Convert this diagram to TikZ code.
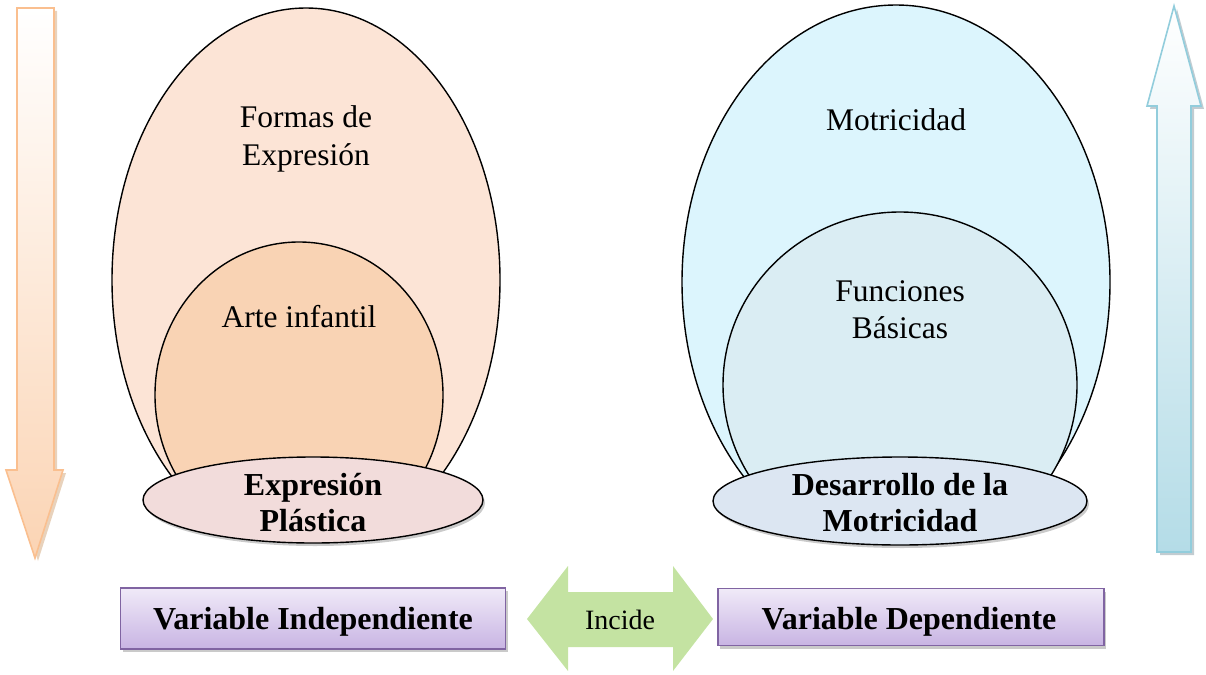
\documentclass[tikz,border=0pt]{standalone}
\usepackage{fontspec}
\setmainfont{Liberation Serif}
\usetikzlibrary{shapes.geometric,shadows}
\definecolor{peachA}{HTML}{FCE4D6}
\definecolor{peachB}{HTML}{F9D3B4}
\definecolor{peachC}{HTML}{F2DCDB}
\definecolor{cyanA}{HTML}{DCF5FD}
\definecolor{cyanB}{HTML}{DAEDF3}
\definecolor{cyanC}{HTML}{DCE6F2}
\definecolor{orArrow}{HTML}{FABF8F}
\definecolor{orFill}{HTML}{FBD4B4}
\definecolor{blArrow}{HTML}{92CDDC}
\definecolor{blFill}{HTML}{B4DCE7}
\definecolor{purLine}{HTML}{8064A2}
\definecolor{purTop}{HTML}{F0EAF8}
\definecolor{purBot}{HTML}{C8B4E3}
\definecolor{greenA}{HTML}{C4E3A2}
\tikzset{
  oval/.style={ellipse, draw=black, line width=1.4pt, inner sep=0pt},
  softshadow/.style={drop shadow={shadow xshift=2pt, shadow yshift=-3pt, opacity=0.35, fill=black!60}},
  lbl/.style={font=\fontsize{31.5}{37}\selectfont, anchor=base, inner sep=0pt},
  blbl/.style={font=\fontsize{32}{36}\selectfont\bfseries, anchor=base, inner sep=0pt},
  varbox/.style={draw=purLine, line width=1.4pt, top color=purTop, bottom color=purBot, softshadow, inner sep=0pt},
}
\begin{document}
\begin{tikzpicture}[x=1pt, y=-1pt]
\useasboundingbox (0,0) rectangle (1206,674);
% side arrows
\draw[draw=orArrow, line width=1.6pt, top color=white, bottom color=orFill,
      drop shadow={shadow xshift=3pt, shadow yshift=-3pt, opacity=0.5, fill=brown!70}]
  (17,8) -- (54,8) -- (54,470) -- (63,470) -- (35,558) -- (6,470) -- (17,470) -- cycle;
\draw[draw=blArrow, line width=1.6pt, top color=white, bottom color=blFill,
      drop shadow={shadow xshift=3pt, shadow yshift=-3pt, opacity=0.5, fill=gray!80!cyan}]
  (1174,6) -- (1201,106) -- (1191,106) -- (1191,552) -- (1157,552) -- (1157,106) -- (1147,106) -- cycle;
% big ovals, cut off behind the base ovals
\begin{scope}
\clip (0,0) rectangle (1206,500);
\node[oval, fill=peachA, minimum width=388pt, minimum height=544pt] (outerL) at (306,280) {};
\node[oval, fill=peachB, minimum width=288pt, minimum height=306pt] (innerL) at (299,395) {};
\node[oval, fill=cyanA, minimum width=428pt, minimum height=554pt] (outerR) at (896,282) {};
\node[oval, fill=cyanB, minimum width=354pt, minimum height=346pt] (innerR) at (900,385) {};
\end{scope}
\node[oval, fill=peachC, minimum width=340pt, minimum height=86pt, softshadow] (baseL) at (313,500) {};
\node[oval, fill=cyanC, minimum width=374pt, minimum height=88pt, softshadow] (baseR) at (900,501) {};
% labels
\node[lbl] (formas1) at (306,128) {Formas de};
\node[lbl] (formas2) at (306,165) {Expresión};
\node[lbl] (arte) at (299,327) {Arte infantil};
\node[blbl] (exp1) at (313,495) {Expresión};
\node[blbl] (exp2) at (313,531) {Plástica};
\node[lbl] (motr) at (896,130) {Motricidad};
\node[lbl] (func1) at (900,301) {Funciones};
\node[lbl] (func2) at (900,338) {Básicas};
\node[blbl] (des1) at (900,495) {Desarrollo de la};
\node[blbl] (des2) at (900,531) {Motricidad};
% bottom
\node[varbox, minimum width=385pt, minimum height=61pt] (vi) at (313,618.5) {};
\node[blbl] (vitxt) at (313,629) {Variable Independiente};
\node[varbox, minimum width=386pt, minimum height=57pt] (vd) at (911,617) {};
\node[blbl] (vdtxt) at (909,629) {Variable Dependiente};
\fill[greenA] (527,619) -- (568,566) -- (568,592) -- (673,592) -- (673,566) -- (713,619)
  -- (673,671) -- (673,647) -- (568,647) -- (568,671) -- cycle;
\node[font=\fontsize{28}{32}\selectfont, anchor=base, inner sep=0pt] (inc) at (620,629) {Incide};
\end{tikzpicture}
\end{document}
